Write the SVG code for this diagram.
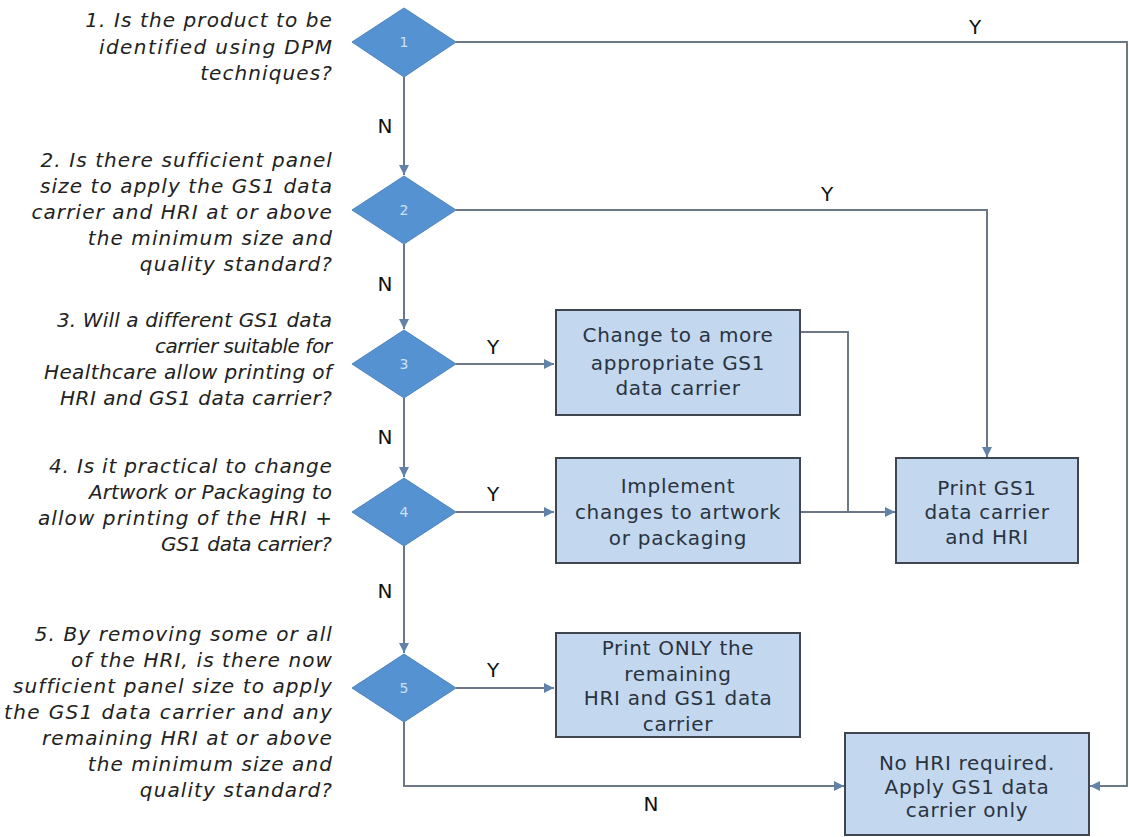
<svg xmlns="http://www.w3.org/2000/svg" width="1129" height="837" viewBox="0 0 1129 837">
<defs>
<marker id="ah" viewBox="0 0 10 10" refX="10" refY="5" markerWidth="10" markerHeight="10" markerUnits="userSpaceOnUse" orient="auto">
<path d="M0,0 L10,5 L0,10 z" fill="#6283a8"/>
</marker>
</defs>
<style>
.q{font-family:"DejaVu Sans",Verdana,sans-serif;font-style:italic;font-size:20px;letter-spacing:1.1px;fill:#222;text-anchor:end}
.bt{font-family:"DejaVu Sans",Verdana,sans-serif;font-size:20px;letter-spacing:0.7px;fill:#2a3340;text-anchor:middle}
.lbl{font-family:"DejaVu Sans",Verdana,sans-serif;font-size:20px;fill:#111;text-anchor:middle}
.dm{fill:#5592d2;stroke:#4f85bd;stroke-width:1}
.dn{font-family:"DejaVu Sans",sans-serif;font-size:14px;fill:#cfe0f2;text-anchor:middle}
.bx{fill:#c3d8ef;stroke:#3f4650;stroke-width:2}
.cn{fill:none;stroke:#6c7888;stroke-width:2}
</style>
<rect width="1129" height="837" fill="#fff"/>
<g id="questions">
<text class="q"><tspan x="333" y="27">1. Is the product to be</tspan><tspan x="333" y="54" textLength="234">identified using DPM</tspan><tspan x="333" y="80">techniques?</tspan></text>
<text class="q"><tspan x="333" y="167">2. Is there sufficient panel</tspan><tspan x="333" y="193">size to apply the GS1 data</tspan><tspan x="333" y="219">carrier and HRI at or above</tspan><tspan x="333" y="245">the minimum size and</tspan><tspan x="333" y="271">quality standard?</tspan></text>
<text class="q"><tspan x="333" y="327" textLength="276">3. Will a different GS1 data</tspan><tspan x="333" y="353" textLength="178">carrier suitable for</tspan><tspan x="333" y="379" textLength="289">Healthcare allow printing of</tspan><tspan x="333" y="405" textLength="273">HRI and GS1 data carrier?</tspan></text>
<text class="q"><tspan x="333" y="473" textLength="284">4. Is it practical to change</tspan><tspan x="333" y="499" textLength="244">Artwork or Packaging to</tspan><tspan x="333" y="525">allow printing of the HRI +</tspan><tspan x="333" y="551" textLength="172">GS1 data carrier?</tspan></text>
<text class="q"><tspan x="333" y="641">5. By removing some or all</tspan><tspan x="333" y="667">of the HRI, is there now</tspan><tspan x="333" y="693">sufficient panel size to apply</tspan><tspan x="333" y="719" textLength="329">the GS1 data carrier and any</tspan><tspan x="333" y="745">remaining HRI at or above</tspan><tspan x="333" y="771">the minimum size and</tspan><tspan x="333" y="797">quality standard?</tspan></text>
</g>
<g id="connectors">
<polyline class="cn" points="456,42 1127,42 1127,786 1090,786" marker-end="url(#ah)"/>
<polyline class="cn" points="456,210 987,210 987,457" marker-end="url(#ah)"/>
<line class="cn" x1="404" y1="77" x2="404" y2="175" marker-end="url(#ah)"/>
<line class="cn" x1="404" y1="244" x2="404" y2="329" marker-end="url(#ah)"/>
<line class="cn" x1="404" y1="398" x2="404" y2="477" marker-end="url(#ah)"/>
<line class="cn" x1="404" y1="546" x2="404" y2="653" marker-end="url(#ah)"/>
<line class="cn" x1="456" y1="364" x2="554" y2="364" marker-end="url(#ah)"/>
<line class="cn" x1="456" y1="512" x2="554" y2="512" marker-end="url(#ah)"/>
<line class="cn" x1="456" y1="688" x2="554" y2="688" marker-end="url(#ah)"/>
<polyline class="cn" points="801,332 848,332 848,512"/>
<line class="cn" x1="801" y1="512" x2="895" y2="512" marker-end="url(#ah)"/>
<polyline class="cn" points="404,722 404,786 844,786" marker-end="url(#ah)"/>
</g>
<g id="labels">
<text class="lbl" x="975" y="34">Y</text>
<text class="lbl" x="827" y="201">Y</text>
<text class="lbl" x="493" y="354">Y</text>
<text class="lbl" x="493" y="501">Y</text>
<text class="lbl" x="493" y="677">Y</text>
<text class="lbl" x="385" y="133">N</text>
<text class="lbl" x="385" y="291">N</text>
<text class="lbl" x="385" y="444">N</text>
<text class="lbl" x="385" y="598">N</text>
<text class="lbl" x="651" y="811">N</text>
</g>
<g id="d1"><polygon class="dm" points="404,8 456,42 404,77 352,42"/><text class="dn" x="404" y="47">1</text></g>
<g id="d2"><polygon class="dm" points="404,176 456,210 404,244 352,210"/><text class="dn" x="404" y="215">2</text></g>
<g id="d3"><polygon class="dm" points="404,330 456,364 404,398 352,364"/><text class="dn" x="404" y="369">3</text></g>
<g id="d4"><polygon class="dm" points="404,478 456,512 404,546 352,512"/><text class="dn" x="404" y="517">4</text></g>
<g id="d5"><polygon class="dm" points="404,654 456,688 404,722 352,688"/><text class="dn" x="404" y="693">5</text></g>
<g id="b3"><rect class="bx" x="556" y="310" width="244" height="105"/><text class="bt"><tspan x="678" y="342">Change to a more</tspan><tspan x="678" y="370">appropriate GS1</tspan><tspan x="678" y="395">data carrier</tspan></text></g>
<g id="b4"><rect class="bx" x="556" y="458" width="244" height="105"/><text class="bt"><tspan x="678" y="493">Implement</tspan><tspan x="678" y="519">changes to artwork</tspan><tspan x="678" y="545">or packaging</tspan></text></g>
<g id="bprint"><rect class="bx" x="896" y="458" width="182" height="105"/><text class="bt"><tspan x="987" y="495">Print GS1</tspan><tspan x="987" y="519">data carrier</tspan><tspan x="987" y="544">and HRI</tspan></text></g>
<g id="b5"><rect class="bx" x="556" y="633" width="244" height="104"/><text class="bt"><tspan x="678" y="655">Print ONLY the</tspan><tspan x="678" y="681">remaining</tspan><tspan x="678" y="705">HRI and GS1 data</tspan><tspan x="678" y="731">carrier</tspan></text></g>
<g id="bnohri"><rect class="bx" x="845" y="733" width="244" height="102"/><text class="bt"><tspan x="967" y="770">No HRI required.</tspan><tspan x="967" y="794">Apply GS1 data</tspan><tspan x="967" y="817">carrier only</tspan></text></g>
</svg>
